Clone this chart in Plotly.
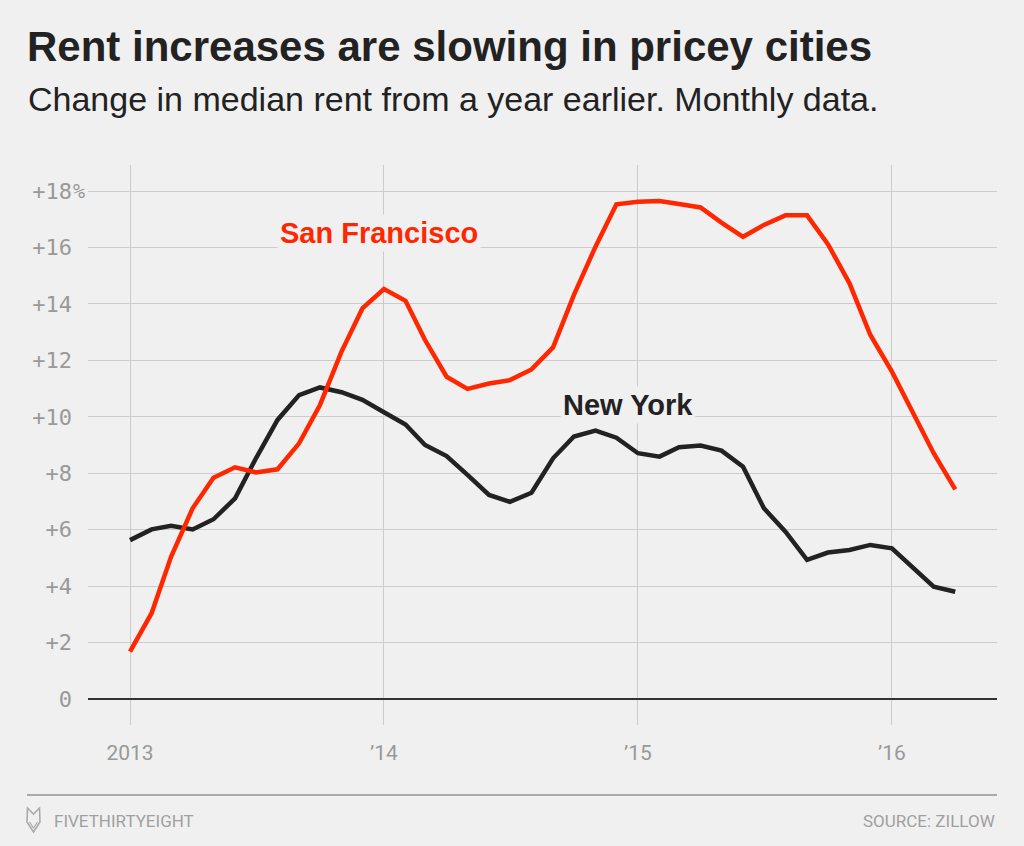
import plotly.graph_objects as go
import pandas as pd

# ---- data ----
months = pd.date_range("2013-01-01", "2016-04-01", freq="MS")

san_francisco = [1.68, 3.04, 5.04, 6.76, 7.84, 8.21, 8.03, 8.14, 9.06, 10.42,
                 12.31, 13.84, 14.53, 14.11, 12.72, 11.42, 10.99, 11.18, 11.30, 11.68,
                 12.46, 14.32, 16.03, 17.53, 17.62, 17.65, 17.54, 17.42, 16.88, 16.38,
                 16.80, 17.14, 17.14, 16.12, 14.73, 12.90, 11.60, 10.12, 8.71, 7.43]

new_york = [5.63, 6.01, 6.14, 6.01, 6.37, 7.11, 8.53, 9.89, 10.77, 11.04,
            10.87, 10.60, 10.16, 9.73, 9.00, 8.61, 7.94, 7.23, 6.99, 7.31,
            8.53, 9.30, 9.51, 9.26, 8.71, 8.59, 8.92, 8.98, 8.80, 8.23,
            6.76, 5.93, 4.93, 5.19, 5.28, 5.46, 5.34, 4.63, 3.98, 3.80]

x_tick_vals = ["2013-01-01", "2014-01-01", "2015-01-01", "2016-01-01"]
x_tick_text = ["2013", "\u201914", "\u201915", "\u201916"]
y_tick_vals = [0, 2, 4, 6, 8, 10, 12, 14, 16, 18]
y_tick_text = ["0", "+2", "+4", "+6", "+8", "+10", "+12", "+14", "+16", "+18"]

RED = "#FF2700"
DARK = "#222222"
BG = "#F0F0F0"
GRID = "#CCCCCC"
TICK = "#999999"

fig = go.Figure()
fig.add_trace(go.Scatter(x=months, y=new_york, mode="lines",
                         line=dict(color=DARK, width=4.5), hoverinfo="skip",
                         name="New York"))
fig.add_trace(go.Scatter(x=months, y=san_francisco, mode="lines",
                         line=dict(color=RED, width=4.5), hoverinfo="skip",
                         name="San Francisco"))

L, R, T, B = 88, 27, 165, 121
W, H = 1024, 846

fig.update_layout(
    width=W, height=H,
    margin=dict(l=L, r=R, t=T, b=B, pad=0),
    paper_bgcolor=BG, plot_bgcolor=BG,
    showlegend=False,
    font=dict(family="Liberation Sans, Arial, sans-serif", color=DARK),
)

fig.update_xaxes(
    type="date",
    range=["2012-11-01 15:00", "2016-05-31"],
    tickvals=x_tick_vals, ticktext=x_tick_text,
    showgrid=True, gridcolor=GRID, gridwidth=1.3,
    zeroline=False, showline=False, ticks="",
    tickfont=dict(family="Liberation Sans Narrow, Roboto, sans-serif", size=21, color=TICK),
    ticklabelstandoff=13,
    fixedrange=True,
)
fig.update_yaxes(
    range=[-0.921, 18.923],
    tickvals=y_tick_vals, ticktext=y_tick_text,
    showgrid=True, gridcolor=GRID, gridwidth=1.3,
    zeroline=True, zerolinecolor="#333333", zerolinewidth=2,
    showline=False, ticks="",
    tickfont=dict(family="DejaVu Sans Mono, monospace", size=22, color=TICK),
    ticklabelstandoff=15,
    fixedrange=True,
)

annotations = [
    # title
    dict(text="<b>Rent increases are slowing in pricey cities</b>",
         xref="paper", yref="paper", x=0, y=1, xanchor="left", yanchor="middle",
         xshift=25 - L, yshift=T - 46, showarrow=False,
         font=dict(family="Liberation Sans, Arial, sans-serif", size=42, color=DARK)),
    # subtitle
    dict(text="Change in median rent from a year earlier. Monthly data.",
         xref="paper", yref="paper", x=0, y=1, xanchor="left", yanchor="middle",
         xshift=26 - L, yshift=T - 99.2, showarrow=False,
         font=dict(family="Liberation Sans, Arial, sans-serif", size=34, color=DARK)),
    # percent sign for top tick
    dict(text="%", xref="paper", yref="y", x=0, y=18, xanchor="left", yanchor="middle",
         xshift=-17, showarrow=False,
         font=dict(family="DejaVu Sans Mono, monospace", size=20, color=TICK)),
    # series labels
    dict(text="<b>San Francisco</b>", xref="x", yref="y", x="2013-12-25", y=16.51,
         xanchor="center", yanchor="middle", showarrow=False, bgcolor=BG,
         borderpad=2,
         font=dict(family="Liberation Sans, Arial, sans-serif", size=29, color=RED)),
    dict(text="<b>New York</b>", xref="x", yref="y", x="2014-12-17", y=10.42,
         xanchor="center", yanchor="middle", showarrow=False, bgcolor=BG,
         borderpad=2,
         font=dict(family="Liberation Sans, Arial, sans-serif", size=29, color=DARK)),
    # footer
    dict(text="FIVETHIRTYEIGHT", xref="paper", yref="paper", x=0, y=0,
         xanchor="left", yanchor="middle", xshift=52 - L, yshift=-(821 - (H - B)),
         showarrow=False,
         font=dict(family="Liberation Sans Narrow, Roboto, sans-serif", size=17, color="#A0A0A0")),
    dict(text="SOURCE: ZILLOW", xref="paper", yref="paper", x=1, y=0,
         xanchor="right", yanchor="middle", yshift=-(821 - (H - B)),
         showarrow=False,
         font=dict(family="Liberation Sans Narrow, Roboto, sans-serif", size=17, color="#A0A0A0")),
]
fig.update_layout(annotations=annotations)

pw, ph = W - L - R, H - T - B


def px(xp):
    return (xp - L) / pw


def py(yp):
    return (H - B - yp) / ph


# footer rule
shapes = [dict(type="line", xref="paper", yref="paper",
               x0=px(27), x1=px(997), y0=py(795), y1=py(795),
               line=dict(color="#AAAAAA", width=2))]

# simple fox-head logo outline
pts = [(27.5, 808), (33.5, 814), (39.5, 808), (40, 822), (33.5, 832), (27, 822)]
path = "M " + " L ".join(f"{px(a):.5f},{py(b):.5f}" for a, b in pts) + " Z"
shapes.append(dict(type="path", xref="paper", yref="paper", path=path,
                   line=dict(color="#AAAAAA", width=1.6)))
path2 = (f"M {px(29.5):.5f},{py(822):.5f} L {px(33.5):.5f},{py(828):.5f} "
         f"L {px(37.5):.5f},{py(822):.5f}")
shapes.append(dict(type="path", xref="paper", yref="paper", path=path2,
                   line=dict(color="#AAAAAA", width=1.2)))
fig.update_layout(shapes=shapes)

fig.write_html("out.html", config={"displayModeBar": False},
               post_script="document.body.style.margin='0px';document.body.style.padding='0px';")
